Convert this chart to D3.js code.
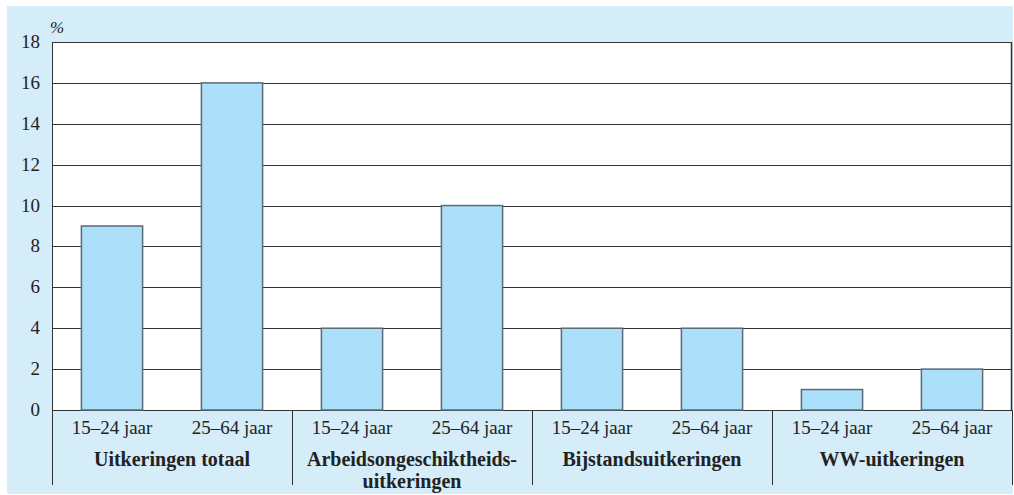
<!DOCTYPE html>
<html lang="nl">
<head>
<meta charset="UTF-8">
<title>Uitkeringen naar leeftijd</title>
<script src="https://d3js.org/d3.v7.min.js"></script>
<style>
    body { margin: 0; background: #fff; }
    text { font-family: "Liberation Serif", "DejaVu Serif", serif; fill: #222; }
    .grid line { stroke: #333; stroke-width: 1px; }
    .bar { fill: #acdff9; stroke: #5b6b76; stroke-width: 1.5px; }
</style>
</head>
<body>
<div id="chart"></div>
<script>
    // data
    var groups = ["Uitkeringen totaal", "Arbeidsongeschiktheids-\nuitkeringen", "Bijstandsuitkeringen", "WW-uitkeringen"];
    var ages = ["15–24 jaar", "25–64 jaar"];
    var values = [9, 16, 4, 10, 4, 4, 1, 2];
    var yTicks = [0, 2, 4, 6, 8, 10, 12, 14, 16, 18];

    var W = 1014, H = 495;
    var pLeft = 52, pRight = 1012, pTop = 42, pBottom = 410;

    var svg = d3.select("#chart").append("svg")
        .attr("width", W)
        .attr("height", H);

    // light blue panel
    svg.append("rect")
        .attr("x", 7).attr("y", 6)
        .attr("width", 1006).attr("height", 488)
        .attr("fill", "#d5ecf9");

    svg.append("rect")
        .attr("x", pLeft).attr("y", pTop)
        .attr("width", pRight - pLeft).attr("height", pBottom - pTop)
        .attr("fill", "#fff");

    var cats = [];
    groups.forEach(function(g, gi) {
        ages.forEach(function(a, ai) { cats.push(gi + "|" + ai); });
    });

    var x = d3.scaleBand().domain(cats).range([pLeft, pRight]).paddingInner(0.49).paddingOuter(0.245);
    var xg = d3.scaleBand().domain(groups).range([pLeft, pRight]);
    var y = d3.scaleLinear().domain([0, 18]).range([pBottom, pTop]);

    // grid lines
    svg.append("g").attr("class", "grid")
        .selectAll("line").data(yTicks).join("line")
        .attr("x1", pLeft).attr("x2", pRight)
        .attr("y1", function(d) { return Math.round(y(d)) + 0.5; })
        .attr("y2", function(d) { return Math.round(y(d)) + 0.5; });

    // right border and left axis
    svg.append("line").attr("x1", pRight - 0.5).attr("x2", pRight - 0.5)
        .attr("y1", pTop).attr("y2", pBottom).attr("stroke", "#333").attr("stroke-width", 1.5);
    svg.append("line").attr("x1", pLeft + 0.5).attr("x2", pLeft + 0.5)
        .attr("y1", pTop).attr("y2", 485).attr("stroke", "#333");

    // bars
    svg.selectAll("rect.bar").data(values).join("rect")
        .attr("class", "bar")
        .attr("x", function(d, i) { return x(cats[i]); })
        .attr("y", function(d) { return y(d); })
        .attr("width", x.bandwidth())
        .attr("height", function(d) { return pBottom - y(d); });

    // y tick labels
    svg.selectAll("text.ytick").data(yTicks).join("text")
        .attr("class", "ytick")
        .attr("x", 40)
        .attr("y", function(d) { return y(d) + 6; })
        .attr("text-anchor", "end")
        .style("font-size", "19px")
        .text(function(d) { return d; });

    svg.append("text")
        .attr("x", 50).attr("y", 33)
        .style("font-size", "17px")
        .style("font-style", "italic")
        .text("%");

    // group dividers
    svg.selectAll("line.div").data(groups).join("line")
        .attr("class", "div")
        .attr("x1", function(d) { return xg(d) + xg.bandwidth() + 0.5; })
        .attr("x2", function(d) { return xg(d) + xg.bandwidth() + 0.5; })
        .attr("y1", pBottom).attr("y2", 485)
        .attr("stroke", "#333");

    // age labels
    svg.selectAll("text.age").data(cats).join("text")
        .attr("class", "age")
        .attr("x", function(d) { return x(d) + x.bandwidth() / 2; })
        .attr("y", 434)
        .attr("text-anchor", "middle")
        .style("font-size", "19px")
        .text(function(d) { return ages[+d.split("|")[1]]; });

    // group labels
    var gl = svg.selectAll("text.grp").data(groups).join("text")
        .attr("class", "grp")
        .attr("text-anchor", "middle")
        .style("font-size", "20px")
        .style("font-weight", "bold");
    gl.each(function(d) {
        var lines = d.split("\n");
        var t = d3.select(this);
        lines.forEach(function(l, li) {
            t.append("tspan")
                .attr("x", xg(d) + xg.bandwidth() / 2)
                .attr("y", 466 + li * 22)
                .text(l);
        });
    });
</script>
</body>
</html>
